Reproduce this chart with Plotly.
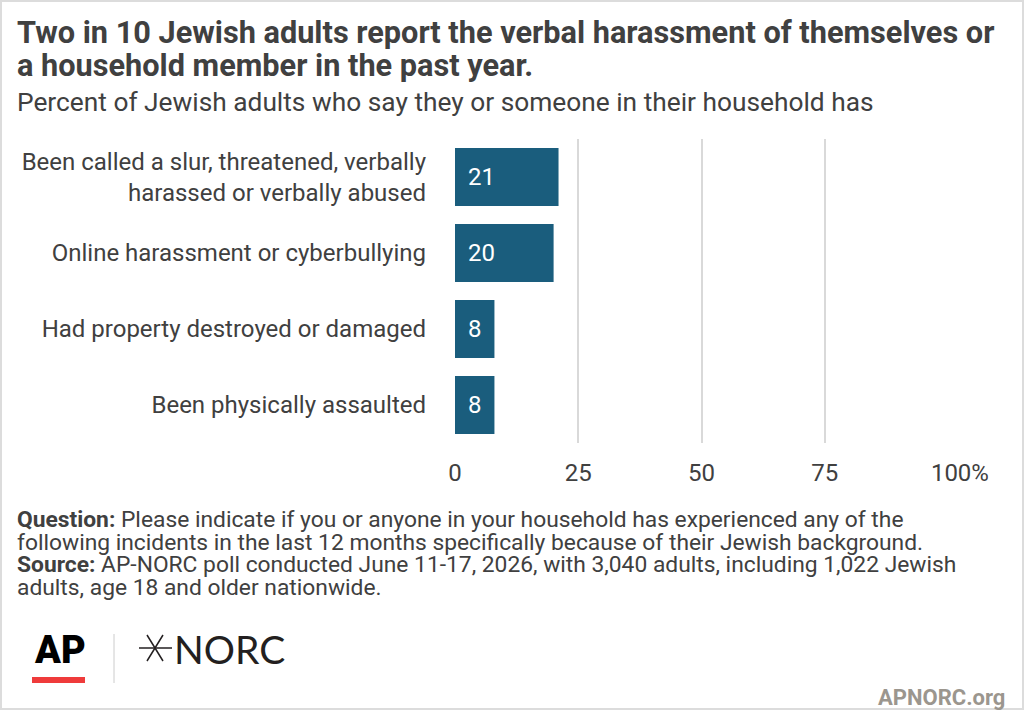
import plotly.graph_objects as go

# Data
categories = [
    "Been called a slur, threatened, verbally<br>harassed or verbally abused",
    "Online harassment or cyberbullying",
    "Had property destroyed or damaged",
    "Been physically assaulted",
]
values = [21, 20, 8, 8]
tick_vals = [0, 25, 50, 75, 100]
tick_text = ["0", "25", "50", "75", "\u00a0\u00a0\u00a0\u00a0100%"]

title_lines = [
    "Two in 10 Jewish adults report the verbal harassment of themselves or",
    "a household member in the past year.",
]
subtitle = "Percent of Jewish adults who say they or someone in their household has"
note_lines = [
    "<b>Question:</b> Please indicate if you or anyone in your household has experienced any of the",
    "following incidents in the last 12 months specifically because of their Jewish background.",
    "<b>Source:</b> AP-NORC poll conducted June 11-17, 2026, with 3,040 adults, including 1,022 Jewish",
    "adults, age 18 and older nationwide.",
]

W, H = 1024, 710
L, R, T, B = 455, 76, 139, 267
PW, PH = W - L - R, H - T - B


def px(x):
    return (x - L) / PW


def py(y):
    return (H - B - y) / PH


FONT = "Roboto"
BAR = "#1a5d7d"
TXT = "#404040"

fig = go.Figure()
fig.add_trace(go.Bar(
    x=values,
    y=categories,
    orientation="h",
    marker=dict(color=BAR, line=dict(width=0)),
    width=0.76,
    hoverinfo="skip",
))

annotations = []
# value labels inside bars
for cat, v in zip(categories, values):
    annotations.append(dict(
        x=0, y=cat, xref="x", yref="y", text=str(v), showarrow=False,
        xanchor="left", xshift=11, font=dict(family=FONT, size=24, color="white"),
    ))

# title and subtitle
for i, line in enumerate(title_lines):
    annotations.append(dict(
        x=px(15), y=py(13 + i * 33), xref="paper", yref="paper", xanchor="left", yanchor="top",
        text="<b>" + line + "</b>", showarrow=False,
        font=dict(family=FONT, size=30.7, color=TXT),
    ))
annotations.append(dict(
    x=px(15), y=py(85), xref="paper", yref="paper", xanchor="left", yanchor="top",
    text=subtitle, showarrow=False, font=dict(family=FONT, size=26.3, color=TXT),
))

# notes
for i, line in enumerate(note_lines):
    annotations.append(dict(
        x=px(15), y=py(504 + i * 22.7), xref="paper", yref="paper", xanchor="left", yanchor="top",
        text=line, showarrow=False, font=dict(family=FONT, size=22.8, color=TXT),
    ))

# logos
annotations.append(dict(
    x=px(32), y=py(650), xref="paper", yref="paper", xanchor="left", yanchor="middle",
    text="AP", showarrow=False, font=dict(family=FONT, size=38, color="#000000", weight=900),
))
annotations.append(dict(
    x=px(172), y=py(649), xref="paper", yref="paper", xanchor="left", yanchor="middle",
    text="NORC", showarrow=False, font=dict(family="Lato", size=39, color="#231f20"),
))
annotations.append(dict(
    x=px(1007), y=py(712), xref="paper", yref="paper", xanchor="right", yanchor="bottom",
    text="<b>APNORC.org</b>", showarrow=False, font=dict(family=FONT, size=22, color="#9b968e"),
))

shapes = [
    # outer border
    dict(type="rect", xref="paper", yref="paper", x0=px(1), x1=px(W - 1), y0=py(H - 1), y1=py(1),
         line=dict(color="#dcdcdc", width=2)),
    # AP red underline
    dict(type="rect", xref="paper", yref="paper", x0=px(32), x1=px(85), y0=py(683), y1=py(677),
         fillcolor="#ef3b3b", line=dict(width=0)),
    # divider
    dict(type="line", xref="paper", yref="paper", x0=px(114), x1=px(114), y0=py(634), y1=py(683),
         line=dict(color="#cccccc", width=1)),
    # NORC star
    dict(type="line", xref="paper", yref="paper", x0=px(139), x1=px(172), y0=py(648), y1=py(648),
         line=dict(color="#231f20", width=1.5)),
    dict(type="path", xref="paper", yref="paper",
         path=f"M {px(147)} {py(635)} Q {px(155)} {py(648)} {px(163)} {py(661)} "
              f"M {px(163)} {py(635)} Q {px(155)} {py(648)} {px(147)} {py(661)}",
         line=dict(color="#231f20", width=1.5)),
]

fig.update_layout(
    width=W, height=H,
    margin=dict(l=L, r=R, t=T, b=B),
    paper_bgcolor="white", plot_bgcolor="white",
    showlegend=False,
    font=dict(family=FONT, size=24, color=TXT),
    xaxis=dict(
        range=[0, 100], tickvals=tick_vals, ticktext=tick_text,
        showgrid=True, gridcolor="#d9d9d9", gridwidth=1.5, zeroline=False,
        ticks="", ticklabelstandoff=13, showline=False,
        tickfont=dict(family=FONT, size=24, color=TXT), fixedrange=True,
    ),
    yaxis=dict(
        autorange="reversed", ticks="", showgrid=False, zeroline=False, showline=False,
        ticklabelstandoff=28, tickfont=dict(family=FONT, size=24, color=TXT), fixedrange=True,
    ),
    bargap=0.24,
    annotations=annotations,
    shapes=shapes,
)

fig.write_html("out.html", config={"displayModeBar": False},
               post_script="document.body.style.margin='0px';")
